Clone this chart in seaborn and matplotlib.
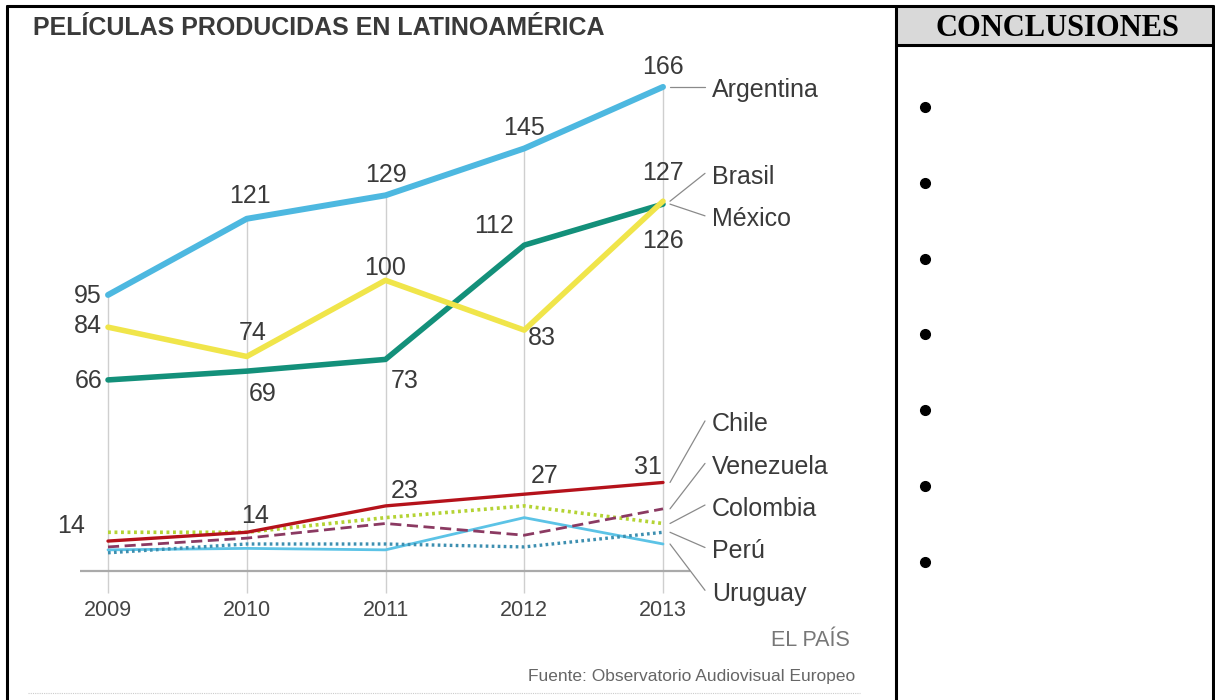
import matplotlib
matplotlib.use("Agg")
import matplotlib.pyplot as plt
import seaborn as sns
import pandas as pd
from matplotlib.patches import Rectangle
from matplotlib.lines import Line2D

# data
years = [2009, 2010, 2011, 2012, 2013]
argentina = [95, 121, 129, 145, 166]
brasil = [84, 74, 100, 83, 127]
mexico = [66, 69, 73, 112, 126]
chile = [11, 14, 23, 27, 31]
venezuela = [9, 12, 17, 13, 22]
colombia = [14, 14, 19, 23, 17]
peru = [7, 10, 10, 9, 14]
uruguay = [8, 8.5, 8, 19, 10]

countries = ["Argentina", "Brasil", "México", "Chile", "Venezuela", "Colombia", "Perú", "Uruguay"]
series = [argentina, brasil, mexico, chile, venezuela, colombia, peru, uruguay]

df = pd.DataFrame({"año": years * len(countries),
                   "país": [c for c in countries for _ in years],
                   "películas": [v for s in series for v in s]})

# styling
styles = {
    "Argentina": dict(color="#4db8e0", lw=4.3, ls="-"),
    "Brasil": dict(color="#f0e54a", lw=4.0, ls="-"),
    "México": dict(color="#13907a", lw=4.0, ls="-"),
    "Chile": dict(color="#b5121b", lw=2.4, ls="-"),
    "Venezuela": dict(color="#8b3a62", lw=2.0, ls=(0, (4, 2))),
    "Colombia": dict(color="#b4d334", lw=2.6, ls=(0, (0.8, 1.0))),
    "Perú": dict(color="#3d8fb0", lw=2.4, ls=(0, (0.8, 1.0))),
    "Uruguay": dict(color="#5cc3e6", lw=2.0, ls="-"),
}
# y (data units) where the country names sit on the right
name_y = {"Argentina": 166, "Brasil": 136.5, "México": 122, "Chile": 52,
          "Venezuela": 37.5, "Colombia": 23.3, "Perú": 8.8, "Uruguay": -5.8}

# value labels: (country, year index, dx px, dy px, ha)
value_labels = [
    ("Argentina", 0, -6, -1, "right"), ("Argentina", 1, 3, 23, "center"),
    ("Argentina", 2, 0, 20, "center"), ("Argentina", 3, 0, 20, "center"),
    ("Argentina", 4, 0, 20, "center"),
    ("Brasil", 0, -6, 1, "right"), ("Brasil", 1, 6, 23, "center"),
    ("Brasil", 2, 0, 12, "center"), ("Brasil", 3, 18, -8, "center"),
    ("Brasil", 4, 0, 28, "center"),
    ("México", 0, -6, -1, "right"), ("México", 1, 16, -23, "center"),
    ("México", 2, 19, -22, "center"), ("México", 3, -30, 19, "center"),
    ("México", 4, 0, -37, "center"),
    ("Colombia", 0, -23, 6, "right"), ("Chile", 1, 8, 16, "center"),
    ("Chile", 2, 19, 15, "center"), ("Chile", 3, 20, 18, "center"),
    ("Chile", 4, -15, 15, "center"),
]

sns.set_style("white")
plt.rcParams["font.family"] = ["Liberation Sans", "DejaVu Sans"]

W, H = 1215, 700
fig = plt.figure(figsize=(W / 100, H / 100), dpi=100)

# axes spanning the left panel, scaled so the years/values land where they should
px_per_year = 138.75
px_per_unit = 2.93
x0_px, y0_px = 108, 573.3
ax = fig.add_axes([0, 0, 895 / W, 1])
ax.set_xlim(2009 - x0_px / px_per_year, 2009 + (895 - x0_px) / px_per_year)
ax.set_ylim((y0_px - H) / px_per_unit, y0_px / px_per_unit)
ax.axis("off")

# grid lines from the axis up to the top series
ax.vlines(years, -6.7, argentina, color="#cfcfcf", lw=1, zorder=0)
ax.hlines(0.8, 2009 - 28 / px_per_year, 2013 + 27 / px_per_year, color="#aaaaaa", lw=1.6, zorder=1)

for c in countries[::-1]:
    st = styles[c]
    sub = df[df["país"] == c]
    sns.lineplot(data=sub, x="año", y="películas", ax=ax, color=st["color"],
                 linewidth=st["lw"], linestyle=st["ls"], legend=False, zorder=3)

ax.set_xlabel("")
ax.set_ylabel("")

lookup = dict(zip(countries, series))
txt = "#3a3a3a"
for c, i, dx, dy, ha in value_labels:
    v = lookup[c][i]
    ax.annotate(str(v), xy=(years[i], v), xytext=(dx, dy), textcoords="offset pixels",
                ha=ha, va="center", fontsize=18, color=txt)

# country names with leader lines
for c in countries:
    v = lookup[c][-1]
    ny = name_y[c]
    ax.plot([2013 + 7 / px_per_year, 2013 + 42 / px_per_year], [v, ny],
            color="#8a8a8a", lw=0.9, zorder=2)
    ax.text(2013 + 49 / px_per_year, ny - 1.2, c, ha="left", va="center",
            fontsize=18, color=txt)

for yr in years:
    ax.text(yr, -12.6, str(yr), ha="center", va="center", fontsize=15.5, color="#444444")

# titles and credits
fig.text(33 / W, 1 - 28 / H, "PELÍCULAS PRODUCIDAS EN LATINOAMÉRICA", ha="left", va="center",
         fontsize=18, fontweight="bold", color="#3a3a3a")
fig.text(850 / W, 1 - 640 / H, "EL PAÍS", ha="right", va="center", fontsize=15.5, color="#777777")
fig.text(855 / W, 1 - 677 / H, "Fuente: Observatorio Audiovisual Europeo", ha="right", va="center",
         fontsize=12.5, color="#666666")
fig.lines.append(Line2D([28 / W, 860 / W], [1 - 693 / H] * 2, transform=fig.transFigure,
                        color="#cccccc", lw=0.8, ls=(0, (1, 1))))

# right panel frame
fig.patches.append(Rectangle((896 / W, 1 - 45 / H), (1213 - 896) / W, 37 / H,
                             transform=fig.transFigure, facecolor="#d9d9d9", edgecolor="none"))
frame = dict(transform=fig.transFigure, color="black", lw=2.2)
fig.lines.append(Line2D([7 / W, 1213 / W], [1 - 6 / H] * 2, **frame))
fig.lines.append(Line2D([7 / W] * 2, [0, 1 - 6 / H], **frame))
fig.lines.append(Line2D([1213 / W] * 2, [0, 1 - 6 / H], **frame))
fig.lines.append(Line2D([896 / W] * 2, [0, 1 - 6 / H], **frame))
fig.lines.append(Line2D([896 / W, 1213 / W], [1 - 45 / H] * 2, **frame))

fig.text(1057 / W, 1 - 29 / H, "CONCLUSIONES", ha="center", va="center", fontsize=22,
         fontweight="bold", family="Liberation Serif", color="black")
bullet_y = [1 - (107 + k * 75.8) / H for k in range(7)]
fig.lines.append(Line2D([925 / W] * 7, bullet_y, transform=fig.transFigure, ls="none",
                        marker="o", markersize=7, color="black"))

fig.savefig("out.png", dpi=100)
